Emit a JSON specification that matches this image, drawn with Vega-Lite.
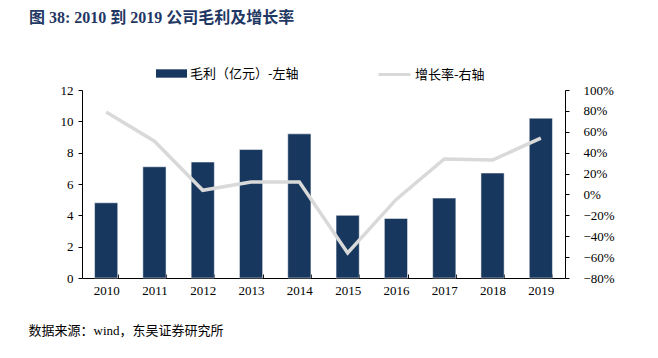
{
  "$schema": "https://vega.github.io/schema/vega-lite/v6.json",
  "autosize": {"type": "none"},
  "width": 483,
  "height": 188,
  "padding": {"left": 82, "top": 90, "right": 93, "bottom": 80},
  "background": "white",
  "config": {
    "view": {"stroke": null},
    "font": "Liberation Serif, Noto Sans CJK SC",
    "axis": {"grid": false, "domainColor": "#000000", "tickColor": "#000000", "labelColor": "#000000", "labelFont": "Liberation Serif, Noto Sans CJK SC", "labelFontSize": 13, "domainWidth": 1, "tickWidth": 1}
  },
  "title": {
    "text": "图 38:  2010 到 2019 公司毛利及增长率",
    "anchor": "start",
    "frame": "group",
    "dx": -53,
    "offset": 31,
    "font": "Liberation Serif, Noto Sans CJK SC",
    "fontSize": 16,
    "fontWeight": "bold",
    "color": "#1F3864"
  },
  "data": {
    "values": [
      {"year": "2010", "profit": 4.8, "growth": 0.79},
      {"year": "2011", "profit": 7.1, "growth": 0.51},
      {"year": "2012", "profit": 7.4, "growth": 0.04},
      {"year": "2013", "profit": 8.2, "growth": 0.12},
      {"year": "2014", "profit": 9.2, "growth": 0.12},
      {"year": "2015", "profit": 4.0, "growth": -0.56},
      {"year": "2016", "profit": 3.8, "growth": -0.05},
      {"year": "2017", "profit": 5.1, "growth": 0.34},
      {"year": "2018", "profit": 6.7, "growth": 0.33},
      {"year": "2019", "profit": 10.2, "growth": 0.54}
    ]
  },
  "encoding": {
    "x": {
      "field": "year",
      "type": "ordinal",
      "scale": {"paddingInner": 0.52, "paddingOuter": 0.26},
      "axis": {
        "labelAngle": 0,
        "tickBand": "extent",
        "tickSize": -4,
        "labelPadding": 10,
        "title": "数据来源：wind，东吴证券研究所",
        "titleFont": "Liberation Serif, Noto Sans CJK SC",
        "titleFontSize": 13,
        "titleFontWeight": "normal",
        "titleColor": "#000000",
        "titleAnchor": "start",
        "titleAlign": "left",
        "titleBaseline": "middle",
        "titleX": -54,
        "titleY": 52
      }
    }
  },
  "layer": [
    {
      "mark": {"type": "bar", "stroke": "#FFFFFF", "strokeWidth": 0.5},
      "encoding": {
        "y": {
          "field": "profit",
          "type": "quantitative",
          "scale": {"domain": [0, 12], "nice": false},
          "axis": {"values": [0, 2, 4, 6, 8, 10, 12], "title": null, "tickSize": 4, "labelPadding": 5}
        },
        "fill": {
          "datum": "毛利（亿元）-左轴",
          "type": "nominal",
          "scale": {"range": ["#17375E"]},
          "legend": {
            "title": null,
            "orient": "none",
            "legendX": 74,
            "legendY": -32,
            "padding": 0,
            "symbolType": "M-1,-0.27H1V0.27H-1Z",
            "symbolSize": 961,
            "symbolStrokeWidth": 0,
            "labelFont": "Noto Sans CJK SC",
            "labelFontSize": 13,
            "labelColor": "#000000",
            "labelOffset": 3
          }
        }
      }
    },
    {
      "mark": {"type": "line", "strokeWidth": 3.5},
      "encoding": {
        "y": {
          "field": "growth",
          "type": "quantitative",
          "scale": {"domain": [-0.8, 1.0], "nice": false},
          "axis": {"orient": "right", "values": [-0.8, -0.6, -0.4, -0.2, 0, 0.2, 0.4, 0.6, 0.8, 1.0], "format": ".0%", "title": null, "tickSize": 4, "labelPadding": 14}
        },
        "stroke": {
          "datum": "增长率-右轴",
          "type": "nominal",
          "scale": {"range": ["#D9D9D9"]},
          "legend": {
            "title": null,
            "orient": "none",
            "legendX": 295,
            "legendY": -33,
            "padding": 0,
            "symbolType": "M-1,0H1",
            "symbolSize": 1024,
            "symbolStrokeWidth": 3,
            "labelFont": "Noto Sans CJK SC",
            "labelFontSize": 13,
            "labelColor": "#000000",
            "labelOffset": 3
          }
        }
      }
    }
  ],
  "resolve": {"scale": {"y": "independent", "fill": "independent", "stroke": "independent"}}
}
